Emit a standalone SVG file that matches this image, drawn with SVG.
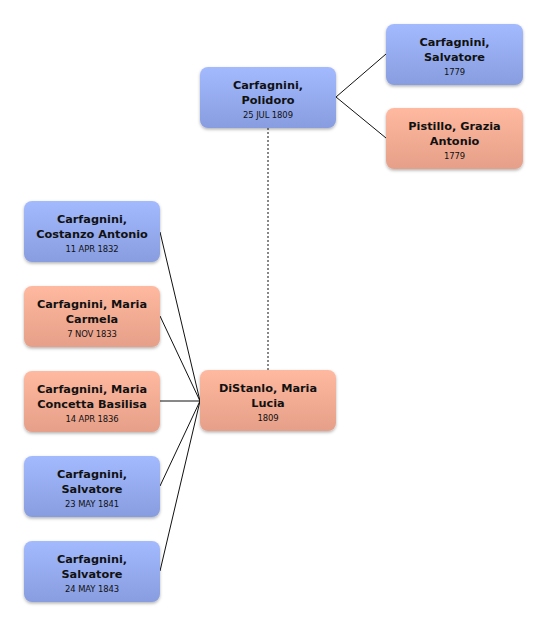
<svg xmlns="http://www.w3.org/2000/svg" width="546" height="626" viewBox="0 0 546 626">
<style>
.n{font-family:"DejaVu Sans",sans-serif;font-size:11.3px;font-weight:bold;fill:#111;text-anchor:middle}
.d{font-family:"DejaVu Sans Condensed","DejaVu Sans",sans-serif;font-stretch:condensed;font-size:9.4px;letter-spacing:-0.1px;fill:#111;text-anchor:middle}
.m{fill:url(#gm);filter:url(#sh)}
.f{fill:url(#gf);filter:url(#sh)}
.c{stroke:#111;stroke-width:1;fill:none}
</style>
<defs>
<linearGradient id="gm" x1="0" y1="0" x2="0" y2="1"><stop offset="0" stop-color="#a4baff"/><stop offset="1" stop-color="#879ddf"/></linearGradient>
<linearGradient id="gf" x1="0" y1="0" x2="0" y2="1"><stop offset="0" stop-color="#ffb9a0"/><stop offset="1" stop-color="#e69f88"/></linearGradient>
<filter id="sh" x="-10%" y="-10%" width="120%" height="130%"><feDropShadow dx="0" dy="1.5" stdDeviation="1.5" flood-color="#000" flood-opacity="0.3"/></filter>
</defs>
<g id="connectors">
<path class="c" d="M336 97L386 54M336 97L386 138"/>
<path class="c" d="M268 128V370" stroke-dasharray="2,2" stroke="#555"/>
<path class="c" d="M160 232L200 401M160 316L200 401M160 401H200M160 486L200 401M160 571L200 401"/>
</g>
<g id="polidoro"><rect class="m" x="200" y="67" width="136" height="61" rx="8"/><text class="n" x="268" y="89">Carfagnini,</text><text class="n" x="268" y="104">Polidoro</text><text class="d" x="268" y="117.5">25 JUL 1809</text></g>
<g id="salvatore1779"><rect class="m" x="386" y="24" width="137" height="61" rx="8"/><text class="n" x="454.5" y="46">Carfagnini,</text><text class="n" x="454.5" y="61">Salvatore</text><text class="d" x="454.5" y="74.5">1779</text></g>
<g id="pistillo"><rect class="f" x="386" y="108" width="137" height="61" rx="8"/><text class="n" x="454.5" y="130">Pistillo, Grazia</text><text class="n" x="454.5" y="145">Antonio</text><text class="d" x="454.5" y="158.5">1779</text></g>
<g id="costanzo"><rect class="m" x="24" y="201" width="136" height="61" rx="8"/><text class="n" x="92" y="223">Carfagnini,</text><text class="n" x="92" y="238">Costanzo Antonio</text><text class="d" x="92" y="251.5">11 APR 1832</text></g>
<g id="carmela"><rect class="f" x="24" y="286" width="136" height="61" rx="8"/><text class="n" x="92" y="308">Carfagnini, Maria</text><text class="n" x="92" y="323">Carmela</text><text class="d" x="92" y="336.5">7 NOV 1833</text></g>
<g id="concetta"><rect class="f" x="24" y="371" width="136" height="61" rx="8"/><text class="n" x="92" y="393">Carfagnini, Maria</text><text class="n" x="92" y="408">Concetta Basilisa</text><text class="d" x="92" y="421.5">14 APR 1836</text></g>
<g id="salvatore1841"><rect class="m" x="24" y="456" width="136" height="61" rx="8"/><text class="n" x="92" y="478">Carfagnini,</text><text class="n" x="92" y="493">Salvatore</text><text class="d" x="92" y="506.5">23 MAY 1841</text></g>
<g id="salvatore1843"><rect class="m" x="24" y="541" width="136" height="61" rx="8"/><text class="n" x="92" y="563">Carfagnini,</text><text class="n" x="92" y="578">Salvatore</text><text class="d" x="92" y="591.5">24 MAY 1843</text></g>
<g id="distanlo"><rect class="f" x="200" y="370" width="136" height="61" rx="8"/><text class="n" x="268" y="392">DiStanlo, Maria</text><text class="n" x="268" y="407">Lucia</text><text class="d" x="268" y="420.5">1809</text></g>
</svg>
